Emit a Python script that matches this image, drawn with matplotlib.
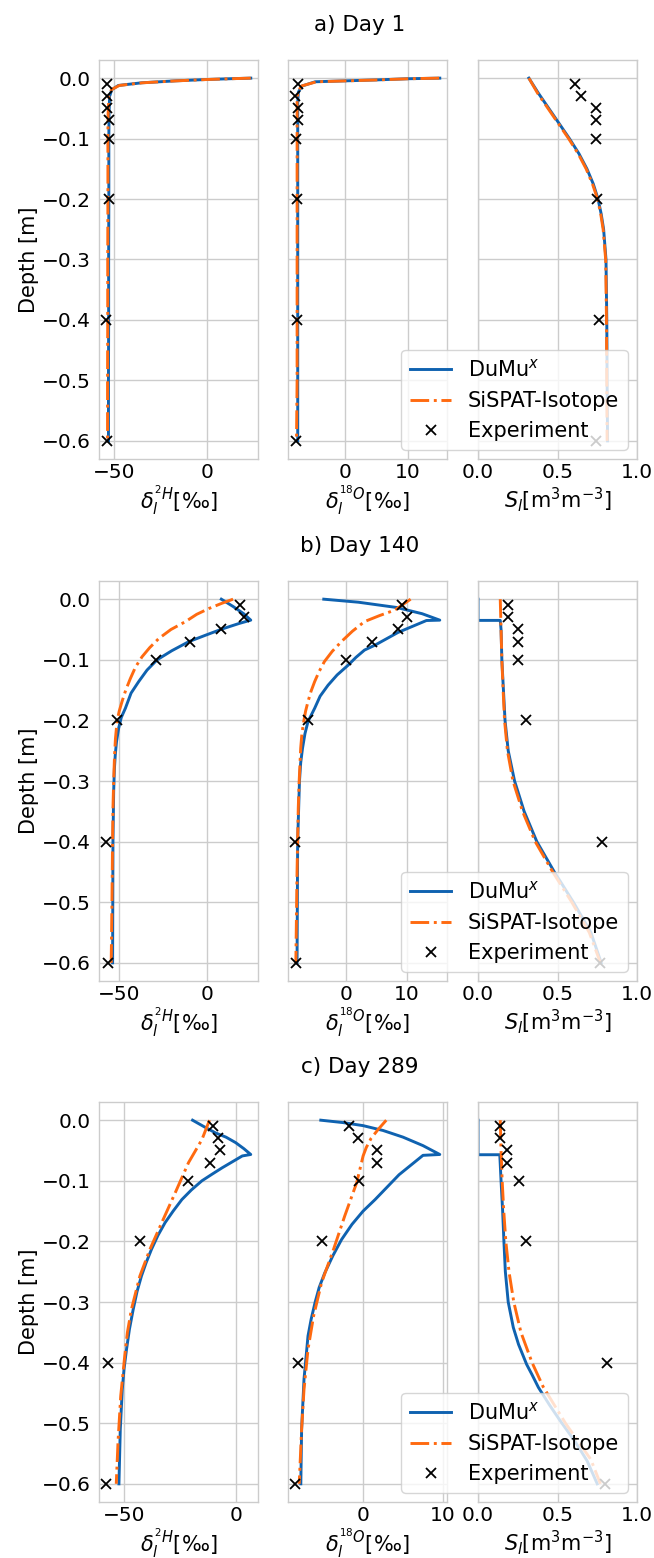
import matplotlib
matplotlib.use("Agg")
import matplotlib.pyplot as plt
from matplotlib.ticker import MultipleLocator

# measured depths [m]
exp_depth = [-0.01, -0.03, -0.05, -0.07, -0.1, -0.2, -0.4, -0.6]

# ---- a) Day 1 ----
d1_h_depth = [0, -0.001, -0.0022, -0.0045, -0.0077, -0.0121, -0.019, -0.03, -0.06, -0.1, -0.2, -0.3, -0.4, -0.5, -0.6]
d1_h_dumux = [23.4, 12, 0, -17, -35, -47.5, -51, -52.2, -52.5, -52.6, -52.6, -52.7, -52.7, -52.8, -52.8]
d1_h_sispat = [23.4, 12.5, 0.5, -16.5, -34.5, -47, -51.2, -52.6, -53, -53.1, -53.1, -53.2, -53.2, -53.3, -53.3]
d1_h_exp = [-53.7, -53.7, -53.7, -52.5, -52.5, -52.5, -54.0, -53.5]

d1_o_depth = [0, -0.001, -0.003, -0.006, -0.013, -0.023, -0.04, -0.1, -0.2, -0.3, -0.4, -0.5, -0.6]
d1_o_dumux = [15.1, 10, 4.8, -4.8, -6.9, -7.5, -7.6, -7.6, -7.6, -7.6, -7.6, -7.6, -7.6]
d1_o_sispat = [15.0, 10.2, 5.0, -4.6, -7.0, -7.6, -7.7, -7.7, -7.7, -7.7, -7.7, -7.7, -7.8]
d1_o_exp = [-7.5, -8.0, -7.5, -7.5, -7.85, -7.7, -7.7, -7.9]

d1_s_depth = [0, -0.025, -0.05, -0.075, -0.1, -0.125, -0.15, -0.175, -0.2, -0.225, -0.25, -0.3, -0.4, -0.5, -0.6]
d1_s_dumux = [0.32, 0.38, 0.445, 0.51, 0.575, 0.635, 0.685, 0.725, 0.755, 0.775, 0.79, 0.805, 0.81, 0.812, 0.815]
d1_s_sispat = [0.32, 0.375, 0.44, 0.505, 0.57, 0.63, 0.68, 0.72, 0.752, 0.772, 0.787, 0.803, 0.808, 0.81, 0.812]
d1_s_exp = [0.61, 0.65, 0.74, 0.74, 0.74, 0.75, 0.76, 0.74]

# ---- b) Day 140 ----
d140_h_depth_dumux = [0, -0.012, -0.024, -0.0346, -0.04, -0.049, -0.06, -0.070, -0.085, -0.100, -0.117, -0.136,
                      -0.155, -0.180, -0.195, -0.213, -0.235, -0.257, -0.28, -0.317, -0.40, -0.5, -0.6]
d140_h_dumux = [7.9, 14.5, 20.5, 24.5, 18.0, 8.5, -1.5, -10.4, -20.0, -28.3, -34.0, -38.7,
                -43.0, -46.2, -48.5, -50.0, -51.2, -51.9, -52.4, -52.8, -53.2, -53.3, -53.4]
d140_h_depth_sispat = [0, -0.007, -0.0154, -0.025, -0.037, -0.05, -0.065, -0.08, -0.095, -0.112, -0.131, -0.15,
                       -0.169, -0.185, -0.202, -0.23, -0.257, -0.3, -0.345, -0.42, -0.51, -0.6]
d140_h_sispat = [14.5, 8.0, 0.9, -6.0, -12.3, -20.5, -27.4, -32.5, -36.8, -40.5, -43.4, -46.0,
                 -48.1, -49.7, -50.9, -51.8, -52.3, -52.8, -53.2, -53.5, -53.8, -54.2]
d140_h_exp = [18.5, 20.4, 7.5, -9.8, -28.7, -50.9, -57.0, -56.2]

d140_o_depth_dumux = [0, -0.005, -0.0137, -0.024, -0.0346, -0.0352, -0.055, -0.076, -0.084, -0.096, -0.109, -0.125,
                      -0.142, -0.16, -0.18, -0.202, -0.222, -0.246, -0.27, -0.30, -0.35, -0.40, -0.5, -0.6]
d140_o_dumux = [-3.7, 2.0, 8.3, 12.5, 15.4, 13.2, 8.5, 4.7, 3.0, 1.6, 0.3, -1.5,
                -3.0, -4.3, -5.2, -6.3, -6.8, -7.2, -7.5, -7.7, -7.85, -8.0, -8.05, -8.1]
d140_o_depth_sispat = [0, -0.018, -0.027, -0.037, -0.053, -0.070, -0.086, -0.103, -0.12, -0.136, -0.152, -0.169,
                       -0.185, -0.202, -0.222, -0.246, -0.3, -0.345, -0.45, -0.6]
d140_o_sispat = [10.6, 8.0, 5.5, 3.0, 1.0, -0.8, -2.3, -3.6, -4.5, -5.2, -5.8, -6.3,
                 -6.7, -7.0, -7.3, -7.5, -7.75, -7.9, -8.1, -8.3]
d140_o_exp = [9.2, 10.0, 8.5, 4.3, 0.0, -6.3, -8.4, -8.2]

d140_s_depth_dumux = [0, -0.035, -0.035, -0.05, -0.1, -0.15, -0.2, -0.25, -0.3, -0.35, -0.4, -0.45, -0.5, -0.55, -0.6]
d140_s_dumux = [0, 0, 0.14, 0.145, 0.15, 0.16, 0.17, 0.19, 0.23, 0.29, 0.37, 0.48, 0.6, 0.71, 0.775]
d140_s_depth_sispat = [0, -0.05, -0.1, -0.15, -0.2, -0.25, -0.3, -0.35, -0.4, -0.45, -0.5, -0.55, -0.6]
d140_s_sispat = [0.14, 0.145, 0.15, 0.158, 0.167, 0.185, 0.22, 0.28, 0.36, 0.47, 0.59, 0.7, 0.77]
d140_s_exp = [0.19, 0.19, 0.25, 0.25, 0.25, 0.30, 0.78, 0.77]

# ---- c) Day 289 ----
d289_h_depth_dumux = [0, -0.01, -0.021, -0.028, -0.037, -0.047, -0.0566, -0.059, -0.0785, -0.089, -0.100, -0.115,
                      -0.131, -0.15, -0.169, -0.19, -0.213, -0.235, -0.257, -0.283, -0.312, -0.345, -0.378, -0.41,
                      -0.444, -0.51, -0.6]
d289_h_dumux = [-19.3, -14.5, -9.0, -4.3, 0.0, 3.7, 6.8, 3.0, -6.0, -10.5, -15.1, -19.8,
                -24.1, -28.0, -31.6, -34.8, -37.7, -40.1, -42.2, -44.2, -45.9, -47.6, -48.9, -50.0,
                -50.8, -51.7, -52.3]
d289_h_depth_sispat = [0, -0.032, -0.070, -0.12, -0.169, -0.213, -0.257, -0.312, -0.35, -0.389, -0.455, -0.53, -0.6]
d289_h_sispat = [-11.7, -15.1, -21.1, -27.1, -33.1, -38.4, -42.9, -46.7, -48.5, -49.7, -51.5, -52.7, -53.5]
d289_h_exp = [-10.2, -7.8, -7.1, -11.6, -21.5, -42.9, -57.2, -58.0]

d289_o_depth_dumux = [0, -0.004, -0.009, -0.017, -0.028, -0.042, -0.0566, -0.058, -0.09, -0.131, -0.15, -0.172,
                      -0.197, -0.224, -0.252, -0.276, -0.30, -0.328, -0.356, -0.427, -0.51, -0.6]
d289_o_dumux = [-5.3, -2.5, 0.0, 2.5, 5.0, 7.5, 9.6, 7.5, 4.5, 1.5, 0.0, -1.4,
                -2.7, -3.8, -4.8, -5.5, -6.0, -6.5, -6.9, -7.4, -7.7, -7.8]
d289_o_depth_sispat = [0, -0.015, -0.03, -0.045, -0.059, -0.103, -0.158, -0.213, -0.268, -0.323, -0.378, -0.444, -0.51, -0.6]
d289_o_sispat = [2.9, 1.9, 1.0, 0.4, 0.0, -0.8, -2.3, -3.7, -5.2, -6.2, -6.9, -7.4, -7.7, -8.0]
d289_o_exp = [-1.8, -0.6, 1.8, 1.7, -0.5, -5.1, -8.2, -8.5]

d289_s_depth_dumux = [0, -0.057, -0.057, -0.1, -0.15, -0.2, -0.25, -0.3, -0.342, -0.37, -0.403, -0.42, -0.441,
                      -0.47, -0.496, -0.53, -0.562, -0.6]
d289_s_dumux = [0, 0, 0.137, 0.145, 0.155, 0.163, 0.172, 0.19, 0.222, 0.255, 0.306, 0.34, 0.38,
                0.45, 0.517, 0.61, 0.686, 0.75]
d289_s_depth_sispat = [0, -0.05, -0.1, -0.15, -0.2, -0.25, -0.3, -0.35, -0.4, -0.44, -0.5, -0.56, -0.6]
d289_s_sispat = [0.14, 0.145, 0.152, 0.162, 0.175, 0.195, 0.225, 0.27, 0.34, 0.41, 0.55, 0.71, 0.77]
d289_s_exp = [0.137, 0.137, 0.18, 0.18, 0.26, 0.30, 0.81, 0.80]

titles = ["a) Day 1", "b) Day 140", "c) Day 289"]
xlabels = [r"$\delta_l^{^{2}H}$[‰]", r"$\delta_l^{^{18}O}$[‰]", r"$S_l$[m$^3$m$^{-3}$]"]

panels = [
    [(d1_h_depth, d1_h_dumux, d1_h_depth, d1_h_sispat, d1_h_exp),
     (d1_o_depth, d1_o_dumux, d1_o_depth, d1_o_sispat, d1_o_exp),
     (d1_s_depth, d1_s_dumux, d1_s_depth, d1_s_sispat, d1_s_exp)],
    [(d140_h_depth_dumux, d140_h_dumux, d140_h_depth_sispat, d140_h_sispat, d140_h_exp),
     (d140_o_depth_dumux, d140_o_dumux, d140_o_depth_sispat, d140_o_sispat, d140_o_exp),
     (d140_s_depth_dumux, d140_s_dumux, d140_s_depth_sispat, d140_s_sispat, d140_s_exp)],
    [(d289_h_depth_dumux, d289_h_dumux, d289_h_depth_sispat, d289_h_sispat, d289_h_exp),
     (d289_o_depth_dumux, d289_o_dumux, d289_o_depth_sispat, d289_o_sispat, d289_o_exp),
     (d289_s_depth_dumux, d289_s_dumux, d289_s_depth_sispat, d289_s_sispat, d289_s_exp)],
]

blue = "#0f62b0"
orange = "#ff6a10"

plt.rcParams.update({
    "font.size": 14.5,
    "axes.edgecolor": "#cccccc",
    "axes.linewidth": 1.0,
    "grid.color": "#cccccc",
    "grid.linewidth": 1.0,
    "xtick.major.size": 0,
    "ytick.major.size": 0,
    "xtick.major.pad": 3,
    "ytick.major.pad": 6,
    "axes.labelpad": 2,
})

W, H = 654, 1558
cols = [(99, 258), (288, 447), (478, 637)]
rows = [(60, 459), (581, 981), (1102, 1502)]
locators = [50, 10, 0.5]

fig = plt.figure(figsize=(W / 100, H / 100), dpi=100)

for r, (y0, y1) in enumerate(rows):
    fig.text(360 / W, 1 - (y0 - 35) / H, titles[r], ha="center", va="center", fontsize=15.5)
    first = None
    for c, (x0, x1) in enumerate(cols):
        ax = fig.add_axes([x0 / W, 1 - y1 / H, (x1 - x0) / W, (y1 - y0) / H],
                          sharey=first)
        if first is None:
            first = ax
        dd, vd, ds, vs, ve = panels[r][c]
        ax.plot(vd, dd, color=blue, lw=2.1, label=r"DuMu$^x$")
        ax.plot(vs, ds, color=orange, lw=2.1, ls="-.", label="SiSPAT-Isotope")
        ax.plot(ve, exp_depth, ls="none", marker="x", color="black",
                ms=7, mew=1.3, label="Experiment")
        ax.grid(True)
        ax.set_axisbelow(True)
        ax.xaxis.set_major_locator(MultipleLocator(locators[c]))
        if c == 2:
            ax.set_xlim(0, 1)
            ax.legend(loc="lower right", fontsize=15, borderaxespad=0.45)
        ax.set_xlabel(xlabels[c], fontsize=15)
        if c == 0:
            ax.set_ylabel("Depth [m]", fontsize=15)
            ax.yaxis.set_major_locator(MultipleLocator(0.1))
        else:
            ax.tick_params(labelleft=False)

fig.savefig("out.png", dpi=100)
